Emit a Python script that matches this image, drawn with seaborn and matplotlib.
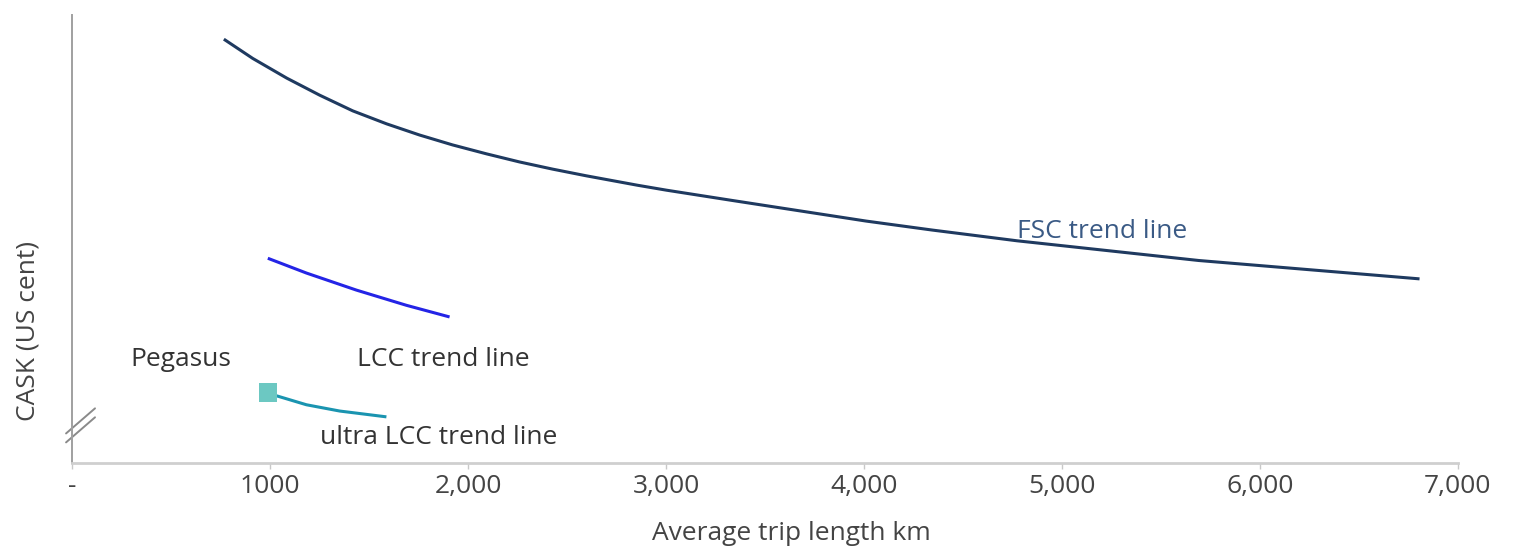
import matplotlib
matplotlib.use("Agg")
import matplotlib.pyplot as plt
import seaborn as sns
import pandas as pd

# Trend lines: average trip length (km) vs. relative CASK (index units)
fsc_km = [767, 913, 1085, 1251, 1418, 1589, 1756, 1922, 2094, 2260, 2427,
          2598, 2856, 3002, 3335, 3673, 4011, 4344, 4773, 5691, 6806]
fsc_cask = [94.6, 90.3, 85.9, 82.1, 78.6, 75.7, 73.2, 71.0, 69.0, 67.2, 65.6,
            64.1, 62.0, 60.9, 58.6, 56.3, 54.0, 52.0, 49.6, 45.2, 41.1]

lcc_km = [989, 1184, 1436, 1689, 1907]
lcc_cask = [45.7, 42.4, 38.6, 35.2, 32.6]

ulcc_km = [989, 1033, 1184, 1352, 1588]
ulcc_cask = [15.8, 15.0, 13.0, 11.6, 10.3]

pegasus_km = [989]
pegasus_cask = [15.8]

xticks = [0, 1000, 2000, 3000, 4000, 5000, 6000, 7000]
xtick_labels = ["-", "1000", "2,000", "3,000", "4,000", "5,000", "6,000", "7,000"]

sns.set_theme(style="white")
plt.rcParams["font.family"] = ["Open Sans", "DejaVu Sans"]

FS = 19

fig = plt.figure(figsize=(15.16, 5.51), dpi=100)
ax = fig.add_axes([0.0475, 0.1597, 0.9142, 0.8131])

fsc = pd.DataFrame({"km": fsc_km, "cask": fsc_cask})
lcc = pd.DataFrame({"km": lcc_km, "cask": lcc_cask})
ulcc = pd.DataFrame({"km": ulcc_km, "cask": ulcc_cask})
peg = pd.DataFrame({"km": pegasus_km, "cask": pegasus_cask})

line_kw = dict(linewidth=2.2, sort=True, solid_capstyle="butt", solid_joinstyle="round")
sns.lineplot(data=fsc, x="km", y="cask", ax=ax, color="#1f3a60", **line_kw)
sns.lineplot(data=lcc, x="km", y="cask", ax=ax, color="#2424e6", **line_kw)
sns.lineplot(data=ulcc, x="km", y="cask", ax=ax, color="#1a94b0", **line_kw)
sns.scatterplot(data=peg, x="km", y="cask", ax=ax, color="#6cc8c2", marker="s", s=180,
                edgecolor="none", zorder=5)

ax.set_xlim(0, 7000)
ax.set_ylim(0, 100)
ax.set_xticks(xticks)
ax.set_xticklabels(xtick_labels)
ax.set_yticks([])
ax.tick_params(axis="x", labelsize=FS, colors="#444444", length=4, width=1,
               color="#c8c8c8", pad=4, bottom=True)

for side in ("top", "right"):
    ax.spines[side].set_visible(False)
ax.spines["left"].set_color("#a0a0a0")
ax.spines["left"].set_linewidth(1.4)
ax.spines["bottom"].set_color("#cfcfcf")
ax.spines["bottom"].set_linewidth(2)

ax.set_xlabel("Average trip length km", fontsize=FS, color="#444444")
ax.xaxis.set_label_coords(0.519, -0.13)
ax.set_ylabel("CASK (US cent)", fontsize=FS, color="#444444")
ax.yaxis.set_label_coords(-0.023, 0.295)

# Series labels
txt = dict(fontsize=FS, va="center", ha="left")
ax.text(293, 23.0, "Pegasus", color="#333333", **txt)
ax.text(1438, 23.0, "LCC trend line", color="#333333", **txt)
ax.text(1251, 5.8, "ultra LCC trend line", color="#333333", **txt)
ax.text(4773, 51.6, "FSC trend line", color="#3a5a85", **txt)

# Axis break marks on the y axis
for dy in (0.0, 0.02):
    ax.plot([-0.0043, 0.0166], [0.046 + dy, 0.102 + dy], transform=ax.transAxes,
            color="#8a8a8a", linewidth=1.4, clip_on=False)

fig.savefig("out.png", dpi=100)
